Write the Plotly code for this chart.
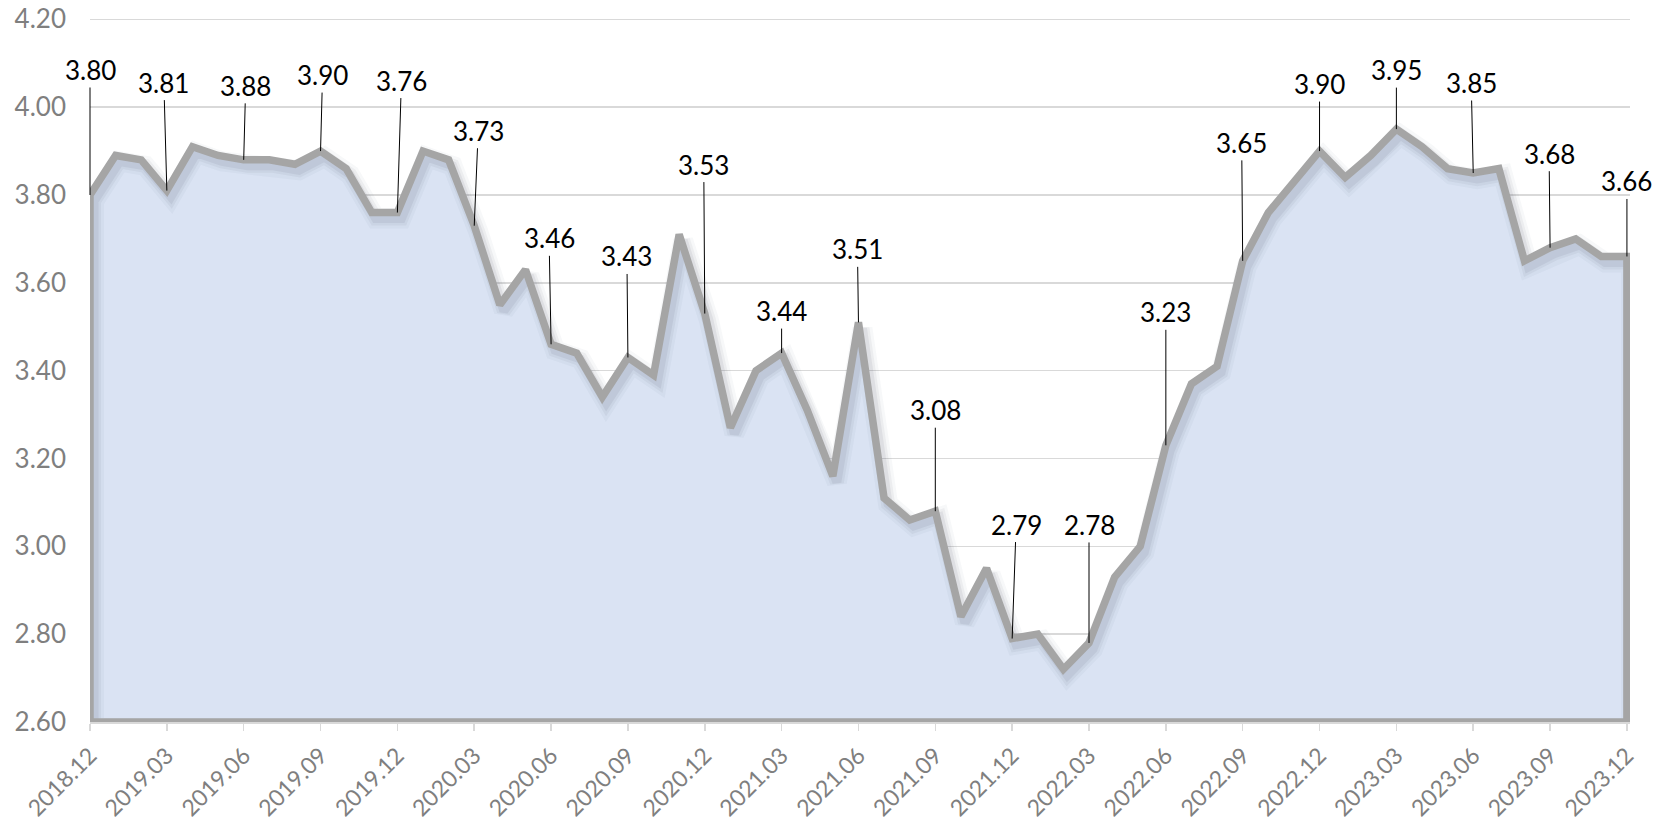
import plotly.graph_objects as go

# ---------------- data ----------------
months = []
for yr in range(2018, 2024):
    for m in range(1, 13):
        if (yr == 2018 and m < 12):
            continue
        months.append(f"{yr}.{m:02d}")

values = [3.80, 3.89, 3.88, 3.81, 3.91, 3.89, 3.88, 3.88, 3.87, 3.90, 3.86, 3.76,
          3.76, 3.90, 3.88, 3.73, 3.55, 3.63, 3.46, 3.44, 3.34, 3.43, 3.39, 3.71,
          3.53, 3.27, 3.40, 3.44, 3.31, 3.16, 3.51, 3.11, 3.06, 3.08, 2.84, 2.95,
          2.79, 2.80, 2.72, 2.78, 2.93, 3.00, 3.23, 3.37, 3.41, 3.65, 3.76, 3.83,
          3.90, 3.84, 3.89, 3.95, 3.91, 3.86, 3.85, 3.86, 3.65, 3.68, 3.70, 3.66,
          3.66]

tick_step = 3
y_ticks = [2.60, 2.80, 3.00, 3.20, 3.40, 3.60, 3.80, 4.00, 4.20]

# label offsets (pixels) of the quarterly data labels, in order
label_dx = [0, -3, 2, 2, 4, 4, -2, -1, -1, 0, -1, 0, 4, 0, 0, -1, 0, 0, -2, -1, 0]
label_dy = [-125, -108, -74, -76, -132, -95, -106, -101, -149, -42, -73, -101,
            -114, -118, -133, -118, -67, -59, -90, -94, -75]

# ---------------- geometry / style ----------------
W, H = 1667, 826
ML, MR, MT, MB = 90, 37, 18, 104
x_range = [0, len(values) - 1 + 0.12]
y_range = [2.6, 4.203]
plot_w = W - ML - MR
plot_h = H - MT - MB

FONT = "Lato"
GRAY_TXT = "#7f7f7f"
GRID = "#d9d9d9"
LINE = "#a5a5a5"
FILL = "#dae3f3"

idx = list(range(len(values)))
base = y_ticks[0]
poly_x = [idx[0]] + idx + [idx[-1], idx[0]]
poly_y = [base] + values + [base, base]

fig = go.Figure()

# area fill
fig.add_trace(go.Scatter(x=poly_x, y=poly_y, fill="toself", fillcolor=FILL,
                         mode="lines", line=dict(width=0, color=FILL),
                         hoverinfo="skip", showlegend=False))

# shadow (same outline on offset axes)
def shifted(rng, px, span_px):
    d = px * (rng[1] - rng[0]) / span_px
    return [rng[0] + d, rng[1] + d]

for w, a in [(20, 0.04), (14, 0.06), (9, 0.08)]:
    fig.add_trace(go.Scatter(x=poly_x, y=poly_y, mode="lines",
                             line=dict(width=w, color=f"rgba(60,70,90,{a})"),
                             xaxis="x2", yaxis="y2", hoverinfo="skip", showlegend=False))

# main outline
fig.add_trace(go.Scatter(x=poly_x, y=poly_y, mode="lines",
                         line=dict(width=7.5, color=LINE),
                         xaxis="x3", yaxis="y3", hoverinfo="skip", showlegend=False))

# data labels
annotations = []
for k, i in enumerate(range(0, len(values), tick_step)):
    annotations.append(dict(x=i, y=values[i], xref="x", yref="y",
                            text=f"{values[i]:.2f}", showarrow=True, arrowhead=0,
                            arrowwidth=1, arrowcolor="#000000", standoff=0,
                            ax=label_dx[k], ay=label_dy[k],
                            font=dict(family=FONT, size=26, color="#000000")))

hidden = dict(visible=False, showgrid=False, zeroline=False, fixedrange=True)

fig.update_layout(
    width=W, height=H,
    margin=dict(l=ML, r=MR, t=MT, b=MB, autoexpand=False),
    paper_bgcolor="white", plot_bgcolor="white",
    showlegend=False,
    annotations=annotations,
    xaxis=dict(range=x_range, tickmode="array",
               tickvals=idx[::tick_step], ticktext=months[::tick_step],
               tickangle=-45, ticks="outside", ticklen=7, tickwidth=1.5,
               tickcolor=GRID, showline=True, linecolor=GRID, linewidth=2,
               showgrid=False, zeroline=False,
               tickfont=dict(family=FONT, size=23, color=GRAY_TXT),
               ticklabelstandoff=2),
    yaxis=dict(range=y_range, tickmode="array", tickvals=y_ticks,
               ticktext=[f"{v:.2f}" for v in y_ticks],
               showgrid=True, gridcolor=GRID, gridwidth=1.5,
               zeroline=False, showline=False, ticks="",
               tickfont=dict(family=FONT, size=26, color=GRAY_TXT),
               ticklabelstandoff=23),
    xaxis2=dict(overlaying="x", range=shifted(x_range, -4, plot_w), **hidden),
    yaxis2=dict(overlaying="y", range=shifted(y_range, 6, plot_h), **hidden),
    xaxis3=dict(overlaying="x", range=x_range, **hidden),
    yaxis3=dict(overlaying="y", range=y_range, **hidden),
)

fig.write_html("out.html",
               config={"displayModeBar": False, "staticPlot": True},
               post_script="document.body.style.margin='0';document.body.style.overflow='hidden';")
